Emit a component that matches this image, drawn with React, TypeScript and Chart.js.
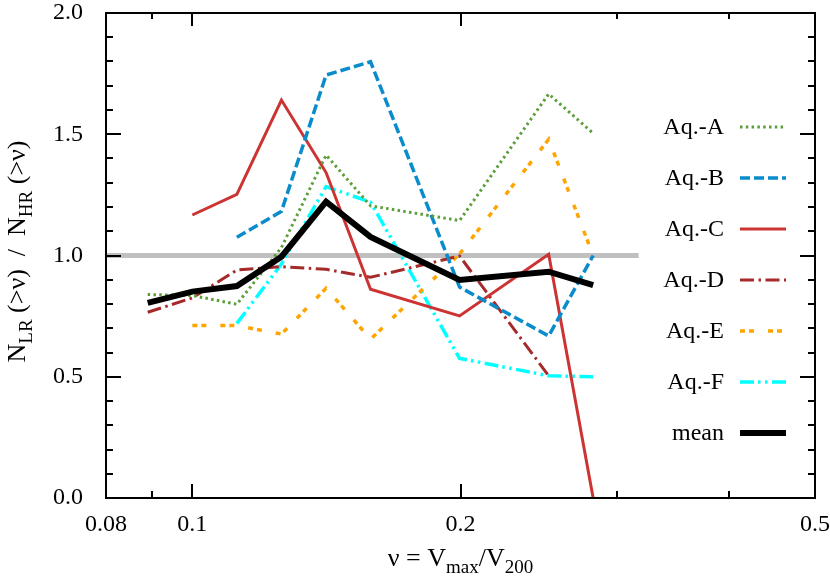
import React, { useEffect, useRef } from 'react';
import { Chart, registerables } from 'chart.js';

Chart.register(...registerables);

// ---- data ----
const X_VALUES = [0.0891, 0.1, 0.1122, 0.1259, 0.1413, 0.1585, 0.1995, 0.2512, 0.2818];
const AQ_A = [0.839, 0.835, 0.799, 1.033, 1.414, 1.205, 1.144, 1.666, 1.504];
const AQ_B = [null, null, 1.075, 1.182, 1.744, 1.799, 0.87, 0.668, 1.0];
const AQ_C = [null, 1.167, 1.252, 1.641, 1.342, 0.861, 0.751, 1.005, 0.0];
const AQ_D = [0.766, 0.825, 0.94, 0.954, 0.943, 0.91, 0.998, 0.504, null];
const AQ_E = [null, 0.711, 0.711, 0.676, 0.865, 0.655, 1.006, 1.479, 1.0];
const AQ_F = [null, null, 0.72, 0.965, 1.284, 1.22, 0.576, 0.504, 0.5];
const MEAN = [0.805, 0.851, 0.874, 0.995, 1.222, 1.077, 0.899, 0.933, 0.878];
const REF_X = [0.08, 0.317];
const REF_Y = [1, 1];
const SERIES_LABELS = ['Aq.-A', 'Aq.-B', 'Aq.-C', 'Aq.-D', 'Aq.-E', 'Aq.-F', 'mean'];
const X_TICK_LABELS = [0.08, 0.1, 0.2, 0.5];
const X_MAJOR_MARKS = [0.1, 0.2];
const X_MINOR_MARKS = [0.09, 0.3, 0.4];
const Y_MIN = 0;
const Y_MAX = 2;
const Y_MAJOR_STEP = 0.5;
const Y_MINOR_STEP = 0.1;

const FONT = '"Liberation Serif", "Times New Roman", Times, serif';

function toPoints(xs: number[], ys: (number | null)[]) {
  const out: { x: number; y: number }[] = [];
  ys.forEach((v, i) => {
    if (v !== null && v !== undefined) out.push({ x: xs[i], y: v });
  });
  return out;
}

type Seg = { t: string; sub?: boolean };

function drawMixed(ctx: CanvasRenderingContext2D, segs: Seg[], cx: number, base: number, main: number, sub: number, subOff: number) {
  const widths = segs.map((s) => {
    ctx.font = `${s.sub ? sub : main}px ${FONT}`;
    return ctx.measureText(s.t).width;
  });
  const total = widths.reduce((a, b) => a + b, 0);
  let x = cx - total / 2;
  segs.forEach((s, i) => {
    ctx.font = `${s.sub ? sub : main}px ${FONT}`;
    ctx.fillText(s.t, x, base + (s.sub ? subOff : 0));
    x += widths[i];
  });
}

const decorPlugin = {
  id: 'decor',
  afterDatasetsDraw(chart: any) {
    const { ctx, chartArea: a, scales } = chart;
    const xs = scales.x;
    const ys = scales.y;
    ctx.save();
    ctx.strokeStyle = '#000';
    ctx.lineWidth = 2;
    ctx.setLineDash([]);
    const seg = (x1: number, y1: number, x2: number, y2: number) => {
      ctx.beginPath();
      ctx.moveTo(x1, y1);
      ctx.lineTo(x2, y2);
      ctx.stroke();
    };
    // y ticks (inward, both sides)
    const nMinor = Math.round((Y_MAX - Y_MIN) / Y_MINOR_STEP);
    for (let i = 1; i < nMinor; i++) {
      const v = Y_MIN + i * Y_MINOR_STEP;
      const py = Math.round(ys.getPixelForValue(v));
      const isMajor = Math.abs(v / Y_MAJOR_STEP - Math.round(v / Y_MAJOR_STEP)) < 1e-6;
      const len = isMajor ? 15 : 7;
      seg(a.left, py, a.left + len, py);
      seg(a.right, py, a.right - len, py);
    }
    // x ticks
    X_MAJOR_MARKS.forEach((v) => {
      const px = Math.round(xs.getPixelForValue(v));
      seg(px, a.bottom, px, a.bottom - 14);
      seg(px, a.top, px, a.top + 13);
    });
    X_MINOR_MARKS.forEach((v) => {
      const px = Math.round(xs.getPixelForValue(v));
      seg(px, a.bottom, px, a.bottom - 7);
      seg(px, a.top, px, a.top + 6);
    });
    // frame
    ctx.strokeRect(a.left, a.top, a.right - a.left, a.bottom - a.top);

    // legend
    const ds = chart.data.datasets.filter((d: any) => d.inLegend);
    ds.forEach((d: any, i: number) => {
      const ly = a.top + 114 + i * 51;
      ctx.fillStyle = '#000';
      ctx.font = `24px ${FONT}`;
      ctx.textAlign = 'right';
      ctx.textBaseline = 'middle';
      ctx.fillText(d.label, a.right - 91, ly + 1);
      ctx.strokeStyle = d.borderColor;
      ctx.lineWidth = d.borderWidth;
      ctx.setLineDash(d.borderDash || []);
      ctx.lineCap = 'butt';
      seg(a.right - 75, ly, a.right - 29, ly);
      ctx.setLineDash([]);
    });

    // axis titles
    ctx.fillStyle = '#000';
    ctx.textAlign = 'left';
    ctx.textBaseline = 'alphabetic';
    drawMixed(
      ctx,
      [{ t: 'ν = V' }, { t: 'max', sub: true }, { t: '/V' }, { t: '200', sub: true }],
      (a.left + a.right) / 2,
      566,
      26,
      19,
      7
    );
    ctx.save();
    ctx.translate(25, (a.top + a.bottom) / 2 - 4);
    ctx.rotate(-Math.PI / 2);
    drawMixed(
      ctx,
      [{ t: 'N' }, { t: 'LR', sub: true }, { t: ' (>ν)  /  N' }, { t: 'HR', sub: true }, { t: ' (>ν)' }],
      0,
      0,
      26,
      19,
      7
    );
    ctx.restore();
    ctx.restore();
  },
};

export default function App() {
  const ref = useRef<HTMLCanvasElement | null>(null);
  useEffect(() => {
    if (!ref.current) return;
    const styles = [
      { color: '#5c9e3a', width: 3, dash: [2.5, 3.3] },
      { color: '#0a8ccc', width: 3.5, dash: [10, 4] },
      { color: '#cc3333', width: 3, dash: [] as number[] },
      { color: '#a52a2a', width: 3, dash: [14, 4.5, 2.5, 4.5] },
      { color: '#ffa500', width: 3.5, dash: [5, 4, 5, 14] },
      { color: '#00ffff', width: 3.5, dash: [14, 4, 2.5, 4.5, 2.5, 4.5] },
      { color: '#000000', width: 6, dash: [] as number[] },
    ];
    const series = [AQ_A, AQ_B, AQ_C, AQ_D, AQ_E, AQ_F, MEAN];
    const datasets: any[] = series.map((s, i) => ({
      label: SERIES_LABELS[i],
      data: toPoints(X_VALUES, s),
      borderColor: styles[i].color,
      backgroundColor: styles[i].color,
      borderWidth: styles[i].width,
      borderDash: styles[i].dash,
      pointRadius: 0,
      tension: 0,
      fill: false,
      inLegend: true,
      order: i === 6 ? 0 : 1,
    }));
    datasets.push({
      label: 'ref',
      data: toPoints(REF_X, REF_Y),
      borderColor: '#c0c0c0',
      borderWidth: 5,
      pointRadius: 0,
      fill: false,
      inLegend: false,
      order: 5,
    });

    const chart = new Chart(ref.current, {
      type: 'line',
      data: { datasets },
      options: {
        animation: false,
        responsive: false,
        layout: { padding: { top: 13, right: 15, left: 0, bottom: 0 } },
        plugins: { legend: { display: false }, tooltip: { enabled: false } },
        scales: {
          x: {
            type: 'logarithmic',
            min: 0.08,
            max: 0.5,
            grid: { display: false },
            border: { display: false },
            afterBuildTicks: (s: any) => {
              s.ticks = X_TICK_LABELS.map((v) => ({ value: v }));
            },
            afterFit: (s: any) => {
              s.height = 83;
              s.paddingLeft = 0;
              s.paddingRight = 0;
            },
            ticks: {
              autoSkip: false,
              maxRotation: 0,
              minRotation: 0,
              padding: 4,
              color: '#000',
              font: { family: FONT, size: 24 },
              callback: (v: any) => String(v),
            },
          },
          y: {
            type: 'linear',
            min: Y_MIN,
            max: Y_MAX,
            grid: { display: false },
            border: { display: false },
            afterFit: (s: any) => {
              s.width = 106;
              s.paddingTop = 0;
              s.paddingBottom = 0;
            },
            ticks: {
              stepSize: Y_MAJOR_STEP,
              padding: 15,
              color: '#000',
              font: { family: FONT, size: 24 },
              callback: (v: any) => Number(v).toFixed(1),
            },
          },
        },
      } as any,
      plugins: [decorPlugin],
    });
    return () => chart.destroy();
  }, []);

  return (
    <div style={{ position: 'fixed', left: 0, top: 0, width: 830, height: 581, background: '#fff' }}>
      <canvas ref={ref} width={830} height={581} style={{ display: 'block' }} />
    </div>
  );
}
